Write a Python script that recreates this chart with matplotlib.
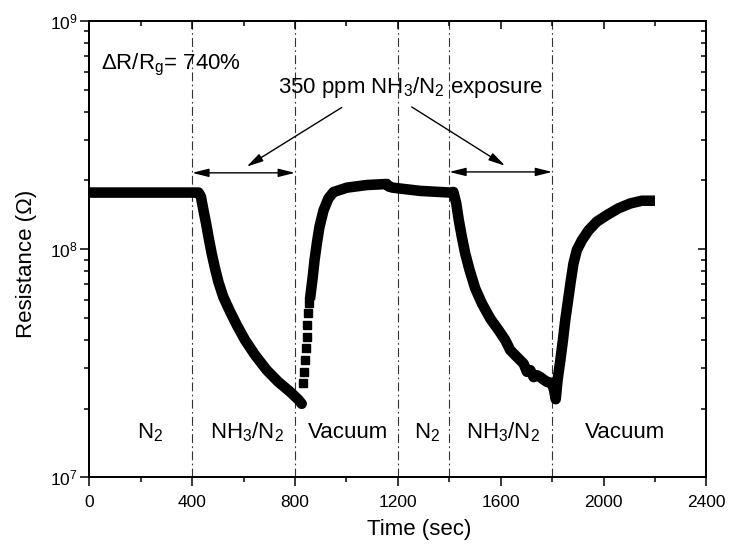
import matplotlib
matplotlib.use("Agg")
import matplotlib.pyplot as plt
from matplotlib.ticker import MultipleLocator, LogLocator, NullFormatter

plt.rcParams['font.family'] = ['Liberation Sans', 'DejaVu Sans']
plt.rcParams['mathtext.fontset'] = 'custom'
plt.rcParams['mathtext.rm'] = 'Liberation Sans'
plt.rcParams['mathtext.it'] = 'Liberation Sans'

# ---- data (time in s, resistance in ohm) ----
t_exposure1 = [0, 100, 200, 300, 400, 425, 434, 444, 454, 465, 476, 489, 502, 521, 548,
               574, 606, 645, 690, 735, 781, 813, 826]
r_exposure1 = [1.77e8, 1.77e8, 1.77e8, 1.77e8, 1.77e8, 1.77e8, 1.70e8, 1.48e8, 1.30e8,
               1.11e8, 9.57e7, 8.23e7, 7.19e7, 6.18e7, 5.31e7, 4.64e7, 3.99e7, 3.43e7,
               2.95e7, 2.62e7, 2.37e7, 2.19e7, 2.10e7]

t_fast_recovery = [833, 836, 839, 842, 845, 848, 851, 855]
r_fast_recovery = [2.58e7, 2.89e7, 3.26e7, 3.68e7, 4.11e7, 4.64e7, 5.24e7, 5.79e7]

t_rest = [858, 861, 869, 876, 885, 895, 911, 930, 950, 1002, 1079, 1157, 1165, 1180,
          1287, 1404, 1416, 1427, 1437, 1449, 1462, 1479, 1501, 1527, 1559, 1592, 1618,
          1637, 1663, 1689, 1702, 1715, 1728, 1741, 1754, 1767, 1780, 1799, 1808, 1814,
          1821, 1832, 1842, 1851, 1862, 1873, 1883, 1896, 1916, 1942, 1974, 2013, 2058,
          2104, 2149, 2200]
r_rest = [6.0e7, 6.39e7, 7.56e7, 8.95e7, 1.06e8, 1.25e8, 1.48e8, 1.67e8, 1.78e8, 1.86e8,
          1.91e8, 1.93e8, 1.88e8, 1.86e8, 1.80e8, 1.77e8,
          1.78e8, 1.59e8, 1.34e8, 1.13e8, 9.57e7, 8.09e7, 6.72e7, 5.78e7, 4.97e7, 4.41e7,
          3.99e7, 3.61e7, 3.37e7, 3.15e7, 2.90e7, 2.95e7, 2.75e7, 2.80e7, 2.75e7, 2.68e7,
          2.62e7, 2.59e7, 2.40e7, 2.20e7, 2.66e7, 3.26e7, 3.99e7, 4.88e7, 5.97e7, 7.31e7,
          8.65e7, 9.90e7, 1.095e8, 1.21e8, 1.32e8, 1.41e8, 1.51e8, 1.586e8, 1.63e8, 1.63e8]

boundaries = [400, 800, 1200, 1400, 1800]

region_labels = ['N$_2$', 'NH$_3$/N$_2$', 'Vacuum', 'N$_2$', 'NH$_3$/N$_2$', 'Vacuum']
region_x = [236, 613, 1005, 1312, 1610, 2085]

x_ticks = [0, 400, 800, 1200, 1600, 2000, 2400]

# ---- figure ----
fig = plt.figure(figsize=(7.29, 5.48), dpi=100)
ax = fig.add_axes([0.1225, 0.129, 0.8465, 0.8327])
ax.set_yscale('log')
ax.set_xlim(0, 2400)
ax.set_ylim(1e7, 1e9)

for b in boundaries:
    ax.axvline(b, color='#333333', lw=0.8, linestyle=(0, (8, 3, 1.5, 3)), zorder=1)

ax.plot(t_exposure1, r_exposure1, color='black', lw=7.6, solid_joinstyle='round',
        solid_capstyle='round', zorder=3)
ax.plot(t_fast_recovery, r_fast_recovery, linestyle='none', marker='s', markersize=6.3,
        color='black', zorder=3)
ax.plot(t_rest, r_rest, color='black', lw=7.6, solid_joinstyle='round',
        solid_capstyle='butt', zorder=3)

# region labels
for lab, xx in zip(region_labels, region_x):
    ax.text(xx, 1.48e7, lab, ha='center', va='baseline', fontsize=16)

# annotations
ax.text(46, 6.15e8, r'$\Delta$R/R$_\mathrm{g}$= 740%', ha='left', va='baseline', fontsize=16)
ax.text(734, 4.85e8, r'350 ppm NH$_3$/N$_2$ exposure', ha='left', va='baseline', fontsize=16)

dbl = dict(arrowstyle='<|-|>,head_length=1.0,head_width=0.25', lw=1, color='black',
           shrinkA=0, shrinkB=0, mutation_scale=10)
ax.annotate('', xy=(400, 2.16e8), xytext=(800, 2.16e8), arrowprops=dbl, zorder=4)
ax.annotate('', xy=(1400, 2.18e8), xytext=(1800, 2.18e8), arrowprops=dbl, zorder=4)
sgl = dict(arrowstyle='-|>,head_length=1.0,head_width=0.25', lw=1, color='black',
           shrinkA=0, shrinkB=0, mutation_scale=10)
ax.annotate('', xy=(612, 2.30e8), xytext=(982, 4.18e8), arrowprops=sgl, zorder=4)
ax.annotate('', xy=(1617, 2.32e8), xytext=(1254, 4.20e8), arrowprops=sgl, zorder=4)

# axes styling
ax.set_xticks(x_ticks)
ax.xaxis.set_minor_locator(MultipleLocator(200))
ax.yaxis.set_major_locator(LogLocator(base=10, numticks=10))
ax.yaxis.set_minor_locator(LogLocator(base=10, subs=range(2, 10), numticks=20))
ax.yaxis.set_minor_formatter(NullFormatter())
ax.tick_params(which='major', direction='out', length=6.5, width=1.1, labelsize=12.5, pad=6)
ax.tick_params(which='minor', direction='out', length=3.5, width=1.1)
ax.tick_params(axis='y', which='major', pad=2)
for s in ax.spines.values():
    s.set_linewidth(1.4)

# mirrored ticks on top/right, pointing inward
axt = ax.twiny()
axt.set_xlim(ax.get_xlim())
axt.set_xticks(x_ticks)
axt.xaxis.set_minor_locator(MultipleLocator(200))
axt.tick_params(which='major', direction='in', length=6, width=1.1, labeltop=False)
axt.tick_params(which='minor', direction='in', length=3.5, width=1.1)
axr = ax.twinx()
axr.set_yscale('log')
axr.set_ylim(ax.get_ylim())
axr.yaxis.set_major_locator(LogLocator(base=10, numticks=10))
axr.yaxis.set_minor_locator(LogLocator(base=10, subs=range(2, 10), numticks=20))
axr.tick_params(which='major', direction='in', length=6, width=1.1, labelright=False)
axr.tick_params(which='minor', direction='in', length=3.5, width=1.1, labelright=False)
axr.yaxis.set_minor_formatter(NullFormatter())
for a in (axt, axr):
    for s in a.spines.values():
        s.set_linewidth(1.4)

ax.set_xlabel('Time (sec)', fontsize=16)
ax.set_ylabel('Resistance (\u03a9)', fontsize=16)
ax.xaxis.set_label_coords(0.535, -0.0915)
ax.yaxis.set_label_coords(-0.0854, 0.467)

fig.savefig('out.png', dpi=100)
